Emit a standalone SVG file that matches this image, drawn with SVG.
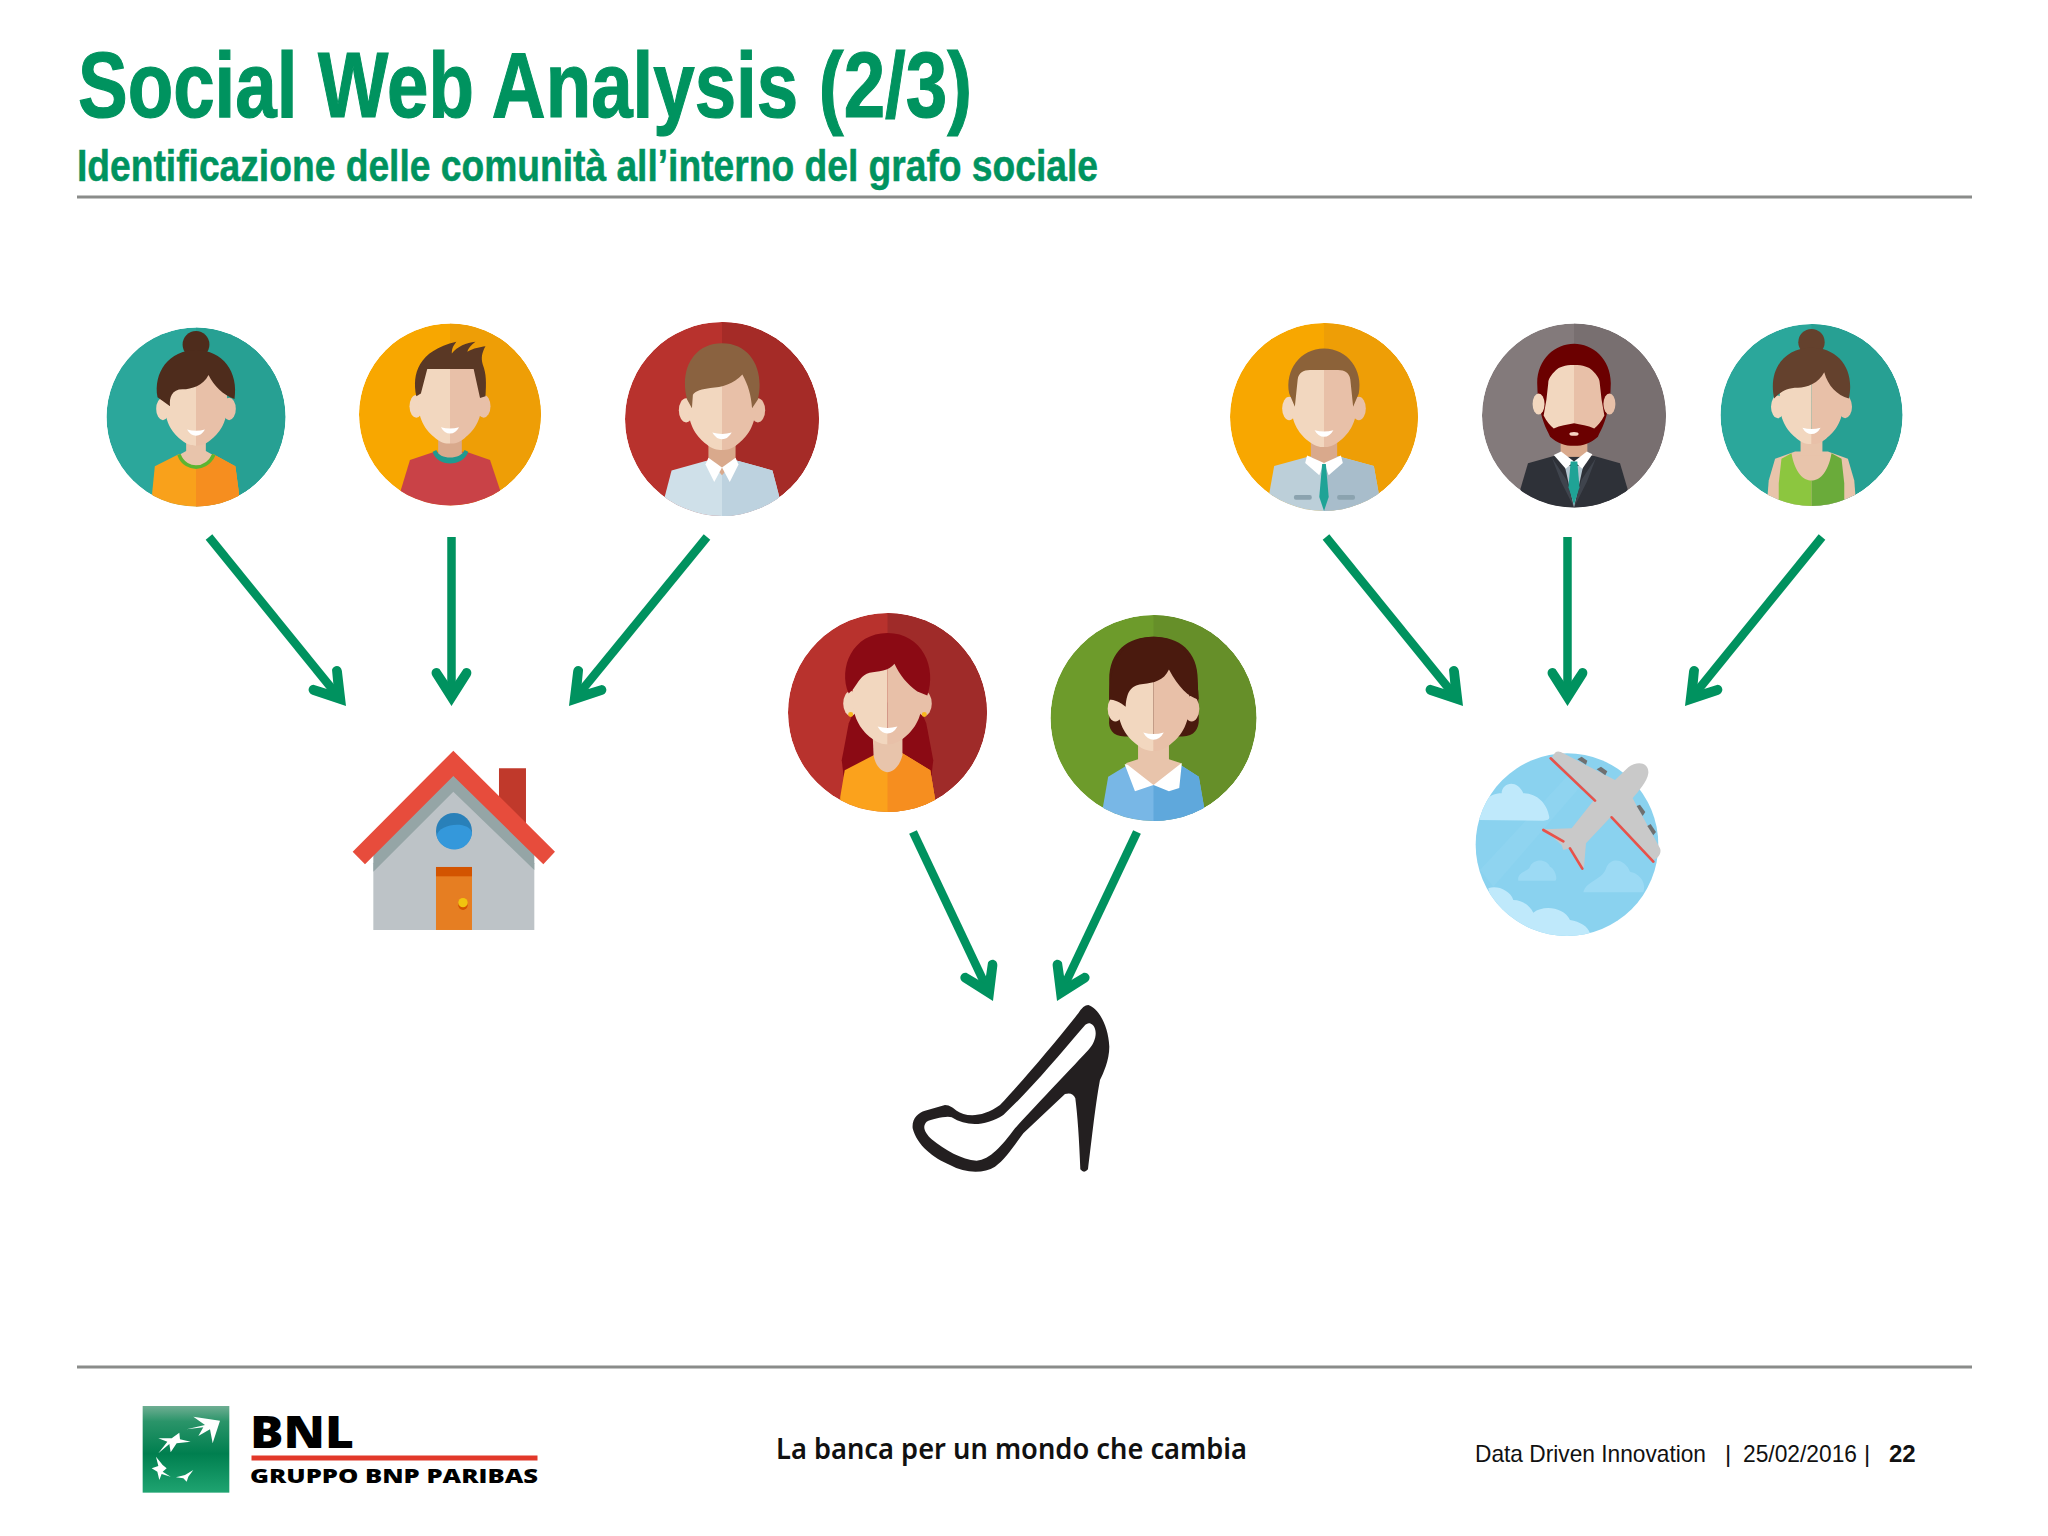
<svg xmlns="http://www.w3.org/2000/svg" xmlns:xlink="http://www.w3.org/1999/xlink" width="2048" height="1536" viewBox="0 0 2048 1536">
<style>
.sans{font-family:"Liberation Sans",Arial,sans-serif}
.green{fill:#00935f;stroke:#00935f;font-weight:bold}
.foot{font-size:24px;fill:#111}
.rule{stroke:#8a8c8a;stroke-width:3;fill:none}
.arrow{stroke:#00925f;stroke-width:8.5;fill:none;marker-end:url(#head)}
.sL{fill:#f2d7bf}.sR{fill:#e8c0a8}.wh{fill:#fff}
</style>
<defs>
<marker id="head" markerUnits="userSpaceOnUse" viewBox="-45 -25 60 50" markerWidth="60" markerHeight="50" refX="-10" refY="0" orient="auto">
<path d="M0,0 L-30,19 C-35,22 -40,17 -37,12 L-19,0 L-37,-12 C-40,-17 -35,-22 -30,-19 Z" fill="#00925f"/>
</marker>
<clipPath id="disc"><circle r="100"/></clipPath>
<clipPath id="globe"><circle cx="321" cy="344" r="274"/></clipPath>
<linearGradient id="logoG" x1="0" y1="0" x2="0" y2="1">
<stop offset="0" stop-color="#6fae93"/><stop offset=".18" stop-color="#2a9469"/><stop offset=".55" stop-color="#007f4f"/><stop offset="1" stop-color="#1fa471"/>
</linearGradient>
<g id="head0">
<ellipse class="sL" cx="-37" cy="-9" rx="7.5" ry="12.5"/>
<ellipse class="sR" cx="37" cy="-9" rx="7.5" ry="12.5"/>
<path class="sL" d="M0,-58 L-18,-58 C-30,-58 -35,-40 -35,-15 C-35,8 -25,19 -16,26 C-10,31 -5,32 0,32 Z"/>
<path class="sR" d="M0,-58 L18,-58 C30,-58 35,-40 35,-15 C35,8 25,19 16,26 C10,31 5,32 0,32 Z"/>
<path class="wh" d="M-10,14 Q0,17 10,14 Q6,21 0,21 Q-6,21 -10,14Z"/>
</g>
</defs>
<rect width="2048" height="1536" fill="#fff"/>

<g id="header">
<text class="sans green" x="78" y="117" font-size="92" stroke-width="1.2" textLength="894" lengthAdjust="spacingAndGlyphs">Social Web Analysis (2/3)</text>
<text class="sans green" x="77" y="181" font-size="44" stroke-width=".5" textLength="1021" lengthAdjust="spacingAndGlyphs">Identificazione delle comunità all’interno del grafo sociale</text>
<line class="rule" x1="77" y1="197" x2="1972" y2="197"/>
</g>

<g id="person-1" transform="translate(196,417) scale(.895)"><g clip-path="url(#disc)">
<circle r="100" fill="#2ba79b"/><path d="M0,-100A100,100 0 0 1 0,100Z" fill="#27a093"/>
<path d="M-49,110 L-49,85 L-46,55 L-20,42 L20,42 L44,55 L48,85 L48,110Z" fill="#f9a11b"/>
<path d="M0,42 L20,42 L44,55 L48,85 L48,110 L0,110Z" fill="#f68e1f"/>
<path d="M-11,20 L11,20 L11,38 L18,42 C14,52 6,55 0,55 C-6,55 -14,52 -18,42 L-11,38Z" fill="#e8c4ab"/>
<path d="M-19,42 C-15,53 -6,56 0,56 C6,56 15,53 20,42" fill="none" stroke="#5cb531" stroke-width="4"/>
<use href="#head0"/>
<circle cx="0" cy="-81" r="15" fill="#4e2c1c"/>
<path d="M-43,-22 C-48,-50 -30,-75 0,-75 C30,-75 48,-50 43,-20 C30,-25 20,-35 14,-47 C8,-35 -5,-31 -15,-31 C-27,-31 -30,-22 -29,-12 Z" fill="#4e2c1c"/>
</g></g>

<g id="person-2" transform="translate(450,414.5) scale(.91)"><g clip-path="url(#disc)">
<circle r="100" fill="#f8a700"/><path d="M0,-100A100,100 0 0 1 0,100Z" fill="#ee9e06"/>
<path d="M-56,110 L-54,83 L-44,50 L-17,41 L18,41 L44,50 L55,83 L56,110Z" fill="#c94247"/>
<path d="M-13,20 L13,20 L13,42 L19,42 C14,54 -14,54 -18,42 L-13,42Z" fill="#d9a98c"/>
<path d="M-19,41 C-15,58 15,58 20,41 L16,39 C12,50 -12,50 -15,39Z" fill="#1f9a90"/>
<use href="#head0"/>
<path d="M-37,-20 C-42,-45 -35,-70 7,-80 C3,-75 2,-72 2,-67 C8,-75 18,-79 28,-80 C23,-76 20,-73 19,-69 C26,-73 33,-74 39,-75 C35,-68 34,-62 36,-55 C40,-45 40,-35 39,-20 L33,-18 L26,-50 L-25,-50 L-32,-23 Z" fill="#5a3825"/>
</g></g>

<g id="person-3" transform="translate(722,419) scale(.97)"><g clip-path="url(#disc)">
<circle r="100" fill="#b8322d"/><path d="M0,-100A100,100 0 0 1 0,100Z" fill="#a52b27"/>
<path d="M-60,110 L-59,80 L-52,53 L-16,43 L16,43 L52,53 L59,80 L60,110Z" fill="#cfe0e9"/>
<path d="M0,43 L16,43 L52,53 L59,80 L60,110 L0,110Z" fill="#bdd2df"/>
<path d="M-14,20 L14,20 L14,42 L0,58 L-14,42Z" fill="#d9a98c"/>
<path class="wh" d="M-14,40 L0,50 L-8,65 L-17,47Z"/><path class="wh" d="M14,40 L0,50 L8,65 L17,47Z"/>
<use href="#head0"/>
<path d="M-31,-11 L-36,-20 C-44,-50 -30,-78 0,-78 C30,-78 44,-50 37,-20 L31,-11 C30,-25 27,-35 21,-46 C12,-36 0,-33 -12,-32 C-20,-31 -28,-29 -30,-25Z" fill="#8a6240"/>
</g></g>

<g id="person-4" transform="translate(1324,417) scale(.94)"><g clip-path="url(#disc)">
<circle r="100" fill="#f8a700"/><path d="M0,-100A100,100 0 0 1 0,100Z" fill="#ee9e06"/>
<path d="M-60,110 L-58,80 L-53,52 L-16,42 L16,42 L53,52 L58,80 L60,110Z" fill="#bccfd9"/>
<path d="M0,42 L16,42 L53,52 L58,80 L60,110 L0,110Z" fill="#a8bdcb"/>
<path d="M-14,20 L14,20 L14,42 L0,55 L-14,42Z" fill="#d9a98c"/>
<path class="wh" d="M-18,41 L0,49 L-5,62 L-20,49Z"/><path class="wh" d="M18,41 L0,49 L5,62 L20,49Z"/>
<path d="M-2,50 L2,50 L5,85 L0,100 L-5,85Z" fill="#1fa396"/>
<rect x="-32" y="83" width="19" height="5" rx="2" fill="#8ba3af"/><rect x="14" y="83" width="19" height="5" rx="2" fill="#8ba3af"/>
<use href="#head0"/>
<path d="M-31,-11 L-37,-25 C-42,-50 -25,-73 0,-73 C25,-73 42,-50 37,-25 L31,-11 L28,-40 C27,-47 22,-50 15,-50 L-15,-50 C-22,-50 -27,-47 -28,-40Z" fill="#8c6239"/>
</g></g>

<g id="person-5" transform="translate(1574,415.5) scale(.92)"><g clip-path="url(#disc)">
<circle r="100" fill="#837a7b"/><path d="M0,-100A100,100 0 0 1 0,100Z" fill="#786f70"/>
<path d="M-60,110 L-58,79 L-50,52 L-22,44 L22,44 L50,52 L58,79 L60,110Z" fill="#2e3138"/>
<path d="M-24,46 L-8,70 L0,100 L-14,72Z M24,46 L8,70 L0,100 L14,72Z" fill="#3f444d"/>
<path d="M-10,55 L10,55 L0,100Z" fill="#b4c6d0"/>
<rect x="-14.5" y="25" width="29" height="20" fill="#d9a98c"/>
<path class="wh" d="M-22,43 L-14,39 L0,50 L-9,58Z"/><path class="wh" d="M20,42 L14,39 L0,50 L9,58Z"/>
<path d="M-3.6,50 L3.6,50 L6,78 L0,97 L-6,78Z" fill="#1fa396"/>
<path d="M-40,-35 C-40,-62 -20,-78 0,-78 C20,-78 40,-62 40,-35 C40,-22 38,-10 35,1 C32,12 28,18 26,23 C18,30 10,33 0,33 C-10,33 -18,30 -26,23 C-28,18 -32,12 -35,1 C-38,-10 -40,-22 -40,-35Z" fill="#6b0000"/>
<path class="sL" d="M0,-55 C-10,-55 -16,-53 -20,-49 C-25,-44 -28,-40 -28,-35 L-30,-17 L-33,0 C-30,6 -26,11 -22,14 C-15,11 -7,10 0,8.5Z"/>
<path class="sR" d="M0,-55 C10,-55 16,-53 20,-49 C25,-44 28,-40 28,-35 L30,-17 L33,0 C30,6 26,11 22,14 C15,11 7,10 0,8.5Z"/>
<ellipse class="sL" cx="-38.5" cy="-12.5" rx="6.5" ry="11.5"/>
<ellipse class="sR" cx="38.5" cy="-12.5" rx="6.5" ry="11.5"/>
<ellipse cx="0" cy="20" rx="5" ry="2" fill="#f6d3c4"/>
</g></g>

<g id="person-6" transform="translate(1811.5,415) scale(.91)"><g clip-path="url(#disc)">
<circle r="100" fill="#2ba79b"/><path d="M0,-100A100,100 0 0 1 0,100Z" fill="#27a093"/>
<path d="M-50,110 L-47,72 L-40,48 L-18,40 L18,40 L40,48 L47,72 L50,110Z" fill="#e8c4ab"/>
<path d="M-36,110 L-36,75 L-33,48 L-22,42 C-18,65 -8,72 0,72 L0,110Z" fill="#8cc63f"/>
<path d="M36,110 L36,75 L33,48 L22,42 C18,65 8,72 0,72 L0,110Z" fill="#6aab3a"/>
<rect x="-12" y="20" width="24" height="25" fill="#e8c4ab"/>
<use href="#head0"/>
<circle cx="0" cy="-80" r="14.5" fill="#64412d"/>
<path d="M-41,-18 C-48,-50 -30,-74 0,-74 C30,-74 48,-50 41,-18 C28,-22 18,-32 14,-47 C8,-35 -5,-30 -15,-30 C-27,-30 -34,-26 -41,-18Z" fill="#64412d"/>
</g></g>

<g id="person-7" transform="translate(887.5,712.5) scale(.995)"><g clip-path="url(#disc)">
<circle r="100" fill="#b8322d"/><path d="M0,-100A100,100 0 0 1 0,100Z" fill="#9f2b29"/>
<path d="M-30,-10 L-39,11 L-46,48 L-44,65 L44,65 L46,48 L39,11 L30,-10Z" fill="#8b0a14"/>
<path d="M-48,110 L-47.5,85 L-43,58 L-14,43 L15,41 L43,58 L48,88 L48,110Z" fill="#fba21c"/>
<path d="M0,42 L15,41 L43,58 L48,88 L48,110 L0,110Z" fill="#f68e1f"/>
<path d="M-15,20 L15,20 L15,43 C12,55 5,60 0,60 C-5,60 -12,55 -14,43Z" fill="#e8c4ab"/>
<use href="#head0"/>
<path d="M-39,-19 C-50,-45 -35,-80 0,-80 C35,-80 50,-45 40,-17 L30,-21 C20,-28 12,-38 7,-49 C2,-42 -10,-41 -18,-40 C-26,-38 -30,-30 -34,-24Z" fill="#8b0a14"/>
<circle cx="-37" cy="2" r="2.5" fill="#f7b71d"/><circle cx="37" cy="2" r="2.5" fill="#f7b71d"/>
</g></g>

<g id="person-8" transform="translate(1153.5,718) scale(1.03)"><g clip-path="url(#disc)">
<circle r="100" fill="#6d9b2b"/><path d="M0,-100A100,100 0 0 1 0,100Z" fill="#668f29"/>
<path d="M-43,-37 C-43,-65 -25,-79 0,-79 C25,-79 43,-65 43,-37 L44,2 C44,10 40,18 28,18 L-28,18 C-40,18 -44,10 -43,2Z" fill="#4a1a0e"/>
<path d="M-50,110 L-49,86 L-44,57 L-26,46 L27,46 L44,57 L49,86 L50,110Z" fill="#78b7e6"/>
<path d="M0,46 L27,46 L44,57 L49,86 L50,110 L0,110Z" fill="#5fa8dc"/>
<path class="wh" d="M-28,45 L27.5,44 L25,68 L15,71 L0,65 L-18,71Z"/>
<path d="M-15,20 L15,20 L15,40 L27,44 L0,65 L-27,44 L-15,40Z" fill="#e8c4ab"/>
<use href="#head0"/>
<path d="M-43,-18 C-43,-60 -25,-79 0,-79 C25,-79 43,-60 44,-18 C34,-20 24,-30 15,-47 C10,-36 0,-34 -10,-33 C-20,-32 -26,-28 -27,-11 C-32,-15 -38,-18 -43,-18Z" fill="#4a1a0e"/>
</g></g>

<g id="connectors">
<line class="arrow" x1="209" y1="537" x2="339.7" y2="698.2"/>
<line class="arrow" x1="451.5" y1="537" x2="451.5" y2="696"/>
<line class="arrow" x1="707" y1="537" x2="575.3" y2="698.2"/>
<line class="arrow" x1="1326" y1="537" x2="1456.7" y2="698.2"/>
<line class="arrow" x1="1567.5" y1="537" x2="1567.5" y2="696"/>
<line class="arrow" x1="1822" y1="537" x2="1691.3" y2="698.2"/>
<line class="arrow" x1="913" y1="832" x2="988.7" y2="992"/>
<line class="arrow" x1="1137" y1="832" x2="1061.3" y2="992"/>
</g>

<g id="house" transform="translate(340,730) scale(.3333)">
<path d="M477,115 H558 V280 H477Z" fill="#c0392b"/>
<path d="M100,400 L340,138 L583,400 V600 H100Z" fill="#bdc3c7"/>
<path d="M100,425 L340,185 L583,420 V370 L340,130 L100,370Z" fill="#95a5a6"/>
<path d="M340,62 L645,365 L610,403 L340,138 L75,403 L38,365Z" fill="#e74c3c"/>
<circle cx="342" cy="303" r="54" fill="#2980b9"/>
<path d="M290,318 C295,280 390,270 396,310 A54,54 0 0 1 290,318Z" fill="#3498db"/>
<rect x="288" y="411" width="108" height="189" fill="#e67e22"/>
<rect x="288" y="411" width="108" height="28" fill="#d35400"/>
<circle cx="369" cy="526" r="14" fill="#d35400"/>
<circle cx="369" cy="518" r="14" fill="#f1c40f"/>
</g>

<g id="plane" transform="translate(1460,730) scale(.3333)">
<circle cx="321" cy="344" r="274" fill="#8ad2ef"/>
<g clip-path="url(#globe)">
<path d="M60,420 L330,130 L370,160 L100,470Z" fill="#8fd4f0"/>
<path d="M57,270 C60,220 85,190 125,190 C125,160 170,145 190,190 C230,190 262,220 268,262 Q268,272 250,272 Z" fill="#bfe9fb"/>
<path d="M175,452 C170,425 205,425 210,410 C220,385 260,385 270,410 C285,415 295,450 285,452Z" fill="#9cdaf4"/>
<path d="M370,487 C380,450 430,450 440,410 C460,375 500,395 510,425 C540,430 560,460 550,487 Z" fill="#9cdaf4"/>
<path d="M85,475 C110,465 150,480 160,510 C190,510 210,530 220,548 C250,525 310,530 330,570 C360,575 385,590 390,610 L320,640 L100,560Z" fill="#bfe9fb"/>
</g>
<path d="M285,68 Q295,60 310,70 L465,150 L505,112 C530,92 568,95 565,130 C562,155 535,185 518,205 L600,355 Q606,370 590,385 L580,391 L455,258 L378,340 L372,412 L360,412 L328,355 L310,360 L305,345 L252,298 L335,295 L405,206 L276,82 Z" fill="#c9c9c9"/>
<path d="M272,85 L405,212 M455,262 L580,395 M250,300 L310,334 M330,355 L367,416" stroke="#e8524a" stroke-width="8" fill="none" stroke-linecap="round"/>
<g fill="#6f6f6f">
<path d="M352,88 L365,80 L382,92 L378,104Z"/><path d="M410,118 L423,110 L442,124 L436,136Z"/>
<path d="M530,228 L540,224 L556,246 L548,258Z"/><path d="M562,288 L572,282 L588,306 L580,316Z"/>
</g>
</g>

<g id="shoe" transform="translate(890,990) scale(.3333)">
<path fill-rule="evenodd" fill="#231f20" d="M595,45 C625,55 655,105 658,170 C658,210 640,250 630,270 C615,350 603,470 594,538 Q582,552 571,538 C568,450 562,370 556,325 Q548,305 525,312 L400,430 C370,470 345,510 315,530 C280,552 225,550 180,525 C130,505 80,465 68,415 C65,385 85,368 105,362 L165,345 C180,345 190,355 200,362 C225,380 275,385 330,345 C400,270 490,165 565,70 Q580,45 595,45Z M600,100 C590,98 585,105 575,117 C500,205 420,300 340,375 C285,410 230,410 185,382 C170,376 125,388 110,395 C95,410 105,430 125,448 C165,480 215,510 260,512 C300,510 335,468 375,415 C425,360 525,255 595,180 C622,152 625,110 600,100Z"/>
</g>

<g id="logo" transform="translate(130,1390) scale(.3333)">
<rect x="38" y="48" width="260" height="260" fill="url(#logoG)"/>
<g fill="#fff">
<path d="M170,118 L225,105 L190,80 L270,92 L248,160 L240,118 L205,138 L220,112Z"/>
<path d="M85,145 L125,145 L148,128 L150,148 L182,155 L140,160 L122,187 L118,162 L85,190 L112,155Z"/>
<path d="M65,235 L85,228 L78,200 L98,225 L110,235 L98,245 L122,260 L95,252 L88,270 L82,245Z"/>
<path d="M138,262 L165,255 L190,240 L175,260 L170,275 L160,265Z"/>
</g>
</g>
<g id="logo-text">
<text x="250" y="1448" font-family="'Open Sans','Noto Sans',sans-serif" font-weight="800" font-size="45" fill="#000" textLength="104" lengthAdjust="spacingAndGlyphs">BNL</text>
<rect x="251.5" y="1455.5" width="286" height="5" fill="#e2382a"/>
<text x="250" y="1483" font-family="'Open Sans','Noto Sans',sans-serif" font-weight="800" font-size="20" fill="#000" textLength="288" lengthAdjust="spacingAndGlyphs">GRUPPO BNP PARIBAS</text>
</g>

<g id="footer">
<line class="rule" x1="77" y1="1367" x2="1972" y2="1367"/>
<text x="776" y="1459" font-family="'Noto Sans',sans-serif" font-weight="600" font-size="28" fill="#111" textLength="471" lengthAdjust="spacingAndGlyphs">La banca per un mondo che cambia</text>
<text class="sans foot" x="1475" y="1462" textLength="231" lengthAdjust="spacingAndGlyphs">Data Driven Innovation</text>
<text class="sans foot" x="1725" y="1462">|</text>
<text class="sans foot" x="1743" y="1462" textLength="114" lengthAdjust="spacingAndGlyphs">25/02/2016</text>
<text class="sans foot" x="1864" y="1462">|</text>
<text class="sans foot" x="1889" y="1462" font-weight="bold">22</text>
</g>
</svg>
